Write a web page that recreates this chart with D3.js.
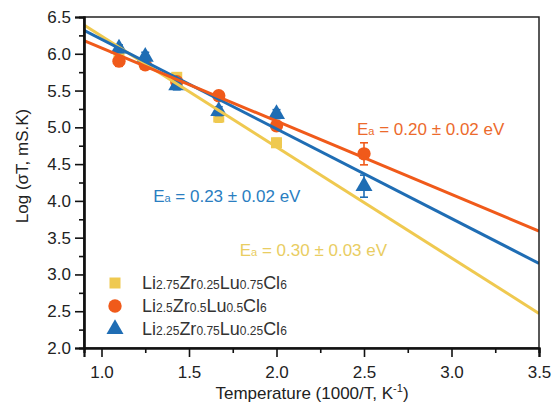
<!DOCTYPE html>
<html lang="en">
	<head>
		<meta charset="UTF-8" />
		<title>Arrhenius plot</title>
		<style>
			html,
			body {
				margin: 0;
				padding: 0;
				background: #fff;
				font-family: 'Liberation Sans', Arial, sans-serif;
			}
			svg {
				display: block;
			}
		</style>
	</head>
	<body>
		<svg id="chart"></svg>

		<script src="https://d3js.org/d3.v7.min.js"></script>

		<script>
			// data
			const seriesNames = [
				['Li', '2.75', 'Zr', '0.25', 'Lu', '0.75', 'Cl', '6'],
				['Li', '2.5', 'Zr', '0.5', 'Lu', '0.5', 'Cl', '6'],
				['Li', '2.25', 'Zr', '0.75', 'Lu', '0.25', 'Cl', '6']
			];
			const colors = ['#efc950', '#f05a1a', '#1f6db4'];
			const labelColors = ['#e9cd62', '#ec6a2c', '#2a7ec1'];
			const shapes = ['square', 'circle', 'triangle'];

			const xYellow = [1.1, 1.25, 1.43, 1.67, 2.0];
			const yYellow = [5.95, 5.86, 5.68, 5.14, 4.79];
			const eYellow = [0.05, 0.07, 0.06, 0.07, 0.06];

			const xOrange = [1.1, 1.25, 1.43, 1.67, 2.0, 2.5];
			const yOrange = [5.9, 5.85, 5.62, 5.43, 5.02, 4.64];
			const eOrange = [0.07, 0.05, 0.05, 0.05, 0.06, 0.15];

			const xBlue = [1.1, 1.25, 1.43, 1.67, 2.0, 2.5];
			const yBlue = [6.07, 5.96, 5.57, 5.22, 5.18, 4.2];
			const eBlue = [0.05, 0.06, 0.06, 0.06, 0.06, 0.15];

			// linear fit lines, end points at the axis limits
			const fitX = [0.9, 3.5];
			const fitYellow = [6.39, 2.47];
			const fitOrange = [6.18, 3.59];
			const fitBlue = [6.32, 3.15];

			const energyLabels = ['0.30 ± 0.03 eV', '0.20 ± 0.02 eV', '0.23 ± 0.02 eV'];
			const energyAt = [[1.79, 3.25], [2.46, 4.9], [1.295, 3.99]];

			const xTicks = [1.0, 1.5, 2.0, 2.5, 3.0, 3.5];
			const yTicks = [2.0, 2.5, 3.0, 3.5, 4.0, 4.5, 5.0, 5.5, 6.0, 6.5];

			const series = [
				{ x: xYellow, y: yYellow, e: eYellow, fit: fitYellow },
				{ x: xOrange, y: yOrange, e: eOrange, fit: fitOrange },
				{ x: xBlue, y: yBlue, e: eBlue, fit: fitBlue }
			];

			const width = 552;
			const height = 406;
			const margin = { top: 17, right: 13, bottom: 58, left: 84 };
			const font = "'Liberation Sans', Arial, sans-serif";

			const svg = d3.select('#chart').attr('width', width).attr('height', height);

			const x = d3.scaleLinear().domain([0.9, 3.5]).range([margin.left, width - margin.right]);
			const y = d3.scaleLinear().domain([2.0, 6.5]).range([height - margin.bottom, margin.top]);

			const plotW = width - margin.left - margin.right;
			const plotH = height - margin.top - margin.bottom;

			svg.append('clipPath')
				.attr('id', 'clip')
				.append('rect')
				.attr('x', margin.left)
				.attr('y', margin.top)
				.attr('width', plotW)
				.attr('height', plotH);

			// markers with error bars
			const symbolFor = {
				square: d3.symbol().type(d3.symbolSquare).size(121),
				circle: d3.symbol().type(d3.symbolCircle).size(140),
				triangle: d3.symbol().type(d3.symbolTriangle).size(125)
			};

			const pts = svg.append('g').attr('clip-path', 'url(#clip)');
			series.forEach((s, i) => {
				const g = pts.append('g');
				const rows = s.x.map((v, j) => ({ x: v, y: s.y[j], e: s.e[j] }));
				const bar = g.selectAll('g.err').data(rows).join('g').attr('class', 'err');
				bar.append('line')
					.attr('x1', (d) => x(d.x))
					.attr('x2', (d) => x(d.x))
					.attr('y1', (d) => y(d.y - d.e))
					.attr('y2', (d) => y(d.y + d.e));
				bar.append('line')
					.attr('x1', (d) => x(d.x) - 4)
					.attr('x2', (d) => x(d.x) + 4)
					.attr('y1', (d) => y(d.y + d.e))
					.attr('y2', (d) => y(d.y + d.e));
				bar.append('line')
					.attr('x1', (d) => x(d.x) - 4)
					.attr('x2', (d) => x(d.x) + 4)
					.attr('y1', (d) => y(d.y - d.e))
					.attr('y2', (d) => y(d.y - d.e));
				bar.selectAll('line').attr('stroke', colors[i]).attr('stroke-width', 1.6);
				g.selectAll('path')
					.data(rows)
					.join('path')
					.attr('d', symbolFor[shapes[i]])
					.attr('transform', (d) => `translate(${x(d.x)},${y(d.y)})`)
					.attr('fill', colors[i]);
			});

			// fit lines
			const line = d3
				.line()
				.x((d) => x(d[0]))
				.y((d) => y(d[1]));
			const fits = svg.append('g').attr('clip-path', 'url(#clip)');
			[0, 2, 1].forEach((i) => {
				fits.append('path')
					.datum(fitX.map((v, j) => [v, series[i].fit[j]]))
					.attr('d', line)
					.attr('fill', 'none')
					.attr('stroke', colors[i])
					.attr('stroke-width', 3);
			});

			// frame
			svg.append('rect')
				.attr('x', margin.left)
				.attr('y', margin.top)
				.attr('width', plotW)
				.attr('height', plotH)
				.attr('fill', 'none')
				.attr('stroke', '#222')
				.attr('stroke-width', 1.5);

			// axes
			svg.append('g')
				.attr('transform', `translate(0,${height - margin.bottom})`)
				.call(d3.axisBottom(x).tickValues(xTicks).tickFormat(d3.format('.1f')).tickSize(9).tickPadding(9));
			svg.append('g')
				.attr('transform', `translate(0,${height - margin.bottom})`)
				.call(d3.axisBottom(x).tickValues(d3.range(1.25, 3.5, 0.5)).tickFormat('').tickSize(5));
			svg.append('g')
				.attr('transform', `translate(${margin.left},0)`)
				.call(d3.axisLeft(y).tickValues(yTicks).tickFormat(d3.format('.1f')).tickSize(9).tickPadding(4));
			svg.append('g')
				.attr('transform', `translate(${margin.left},0)`)
				.call(d3.axisLeft(y).tickValues(d3.range(2.25, 6.5, 0.5)).tickFormat('').tickSize(5));

			svg.selectAll('.domain').attr('stroke', '#111').attr('stroke-width', 2.2);
			svg.selectAll('.tick line').attr('stroke', '#111').attr('stroke-width', 1.6);
			svg.selectAll('.tick text')
				.attr('fill', '#222')
				.style('font-size', '17px')
				.style('font-family', font);

			// axis titles
			const xTitle = svg
				.append('text')
				.attr('x', 312)
				.attr('y', 399)
				.attr('text-anchor', 'middle')
				.attr('fill', '#222')
				.style('font-size', '17px');
			xTitle.append('tspan').text('Temperature (1000/T, K');
			xTitle.append('tspan').attr('dy', -7).style('font-size', '11px').text('-1');
			xTitle.append('tspan').attr('dy', 7).text(')');

			svg.append('text')
				.attr('transform', 'translate(28,166) rotate(-90)')
				.attr('text-anchor', 'middle')
				.attr('fill', '#222')
				.style('font-size', '17px')
				.text('Log (σT, mS.K)');

			// activation energy labels
			energyLabels.forEach((lab, i) => {
				const t = svg
					.append('text')
					.attr('x', x(energyAt[i][0]))
					.attr('y', y(energyAt[i][1]))
					.attr('fill', labelColors[i])
					.style('font-size', '17px');
				t.append('tspan').text('E');
				t.append('tspan').style('font-size', '11px').text('a');
				t.append('tspan').text(' = ' + lab);
			});

			// legend
			const legend = svg.append('g');
			seriesNames.forEach((parts, i) => {
				const ly = 283 + i * 23;
				legend.append('path')
					.attr('d', symbolFor[shapes[i]])
					.attr('transform', `translate(115,${ly})`)
					.attr('fill', colors[i]);
				const t = legend
					.append('text')
					.attr('x', 142)
					.attr('y', ly + 6)
					.attr('fill', '#333');
				parts.forEach((p, k) => {
					t.append('tspan')
						.style('font-size', k % 2 ? '12px' : '18px')
						.text(p);
				});
			});
		</script>
	</body>
</html>
